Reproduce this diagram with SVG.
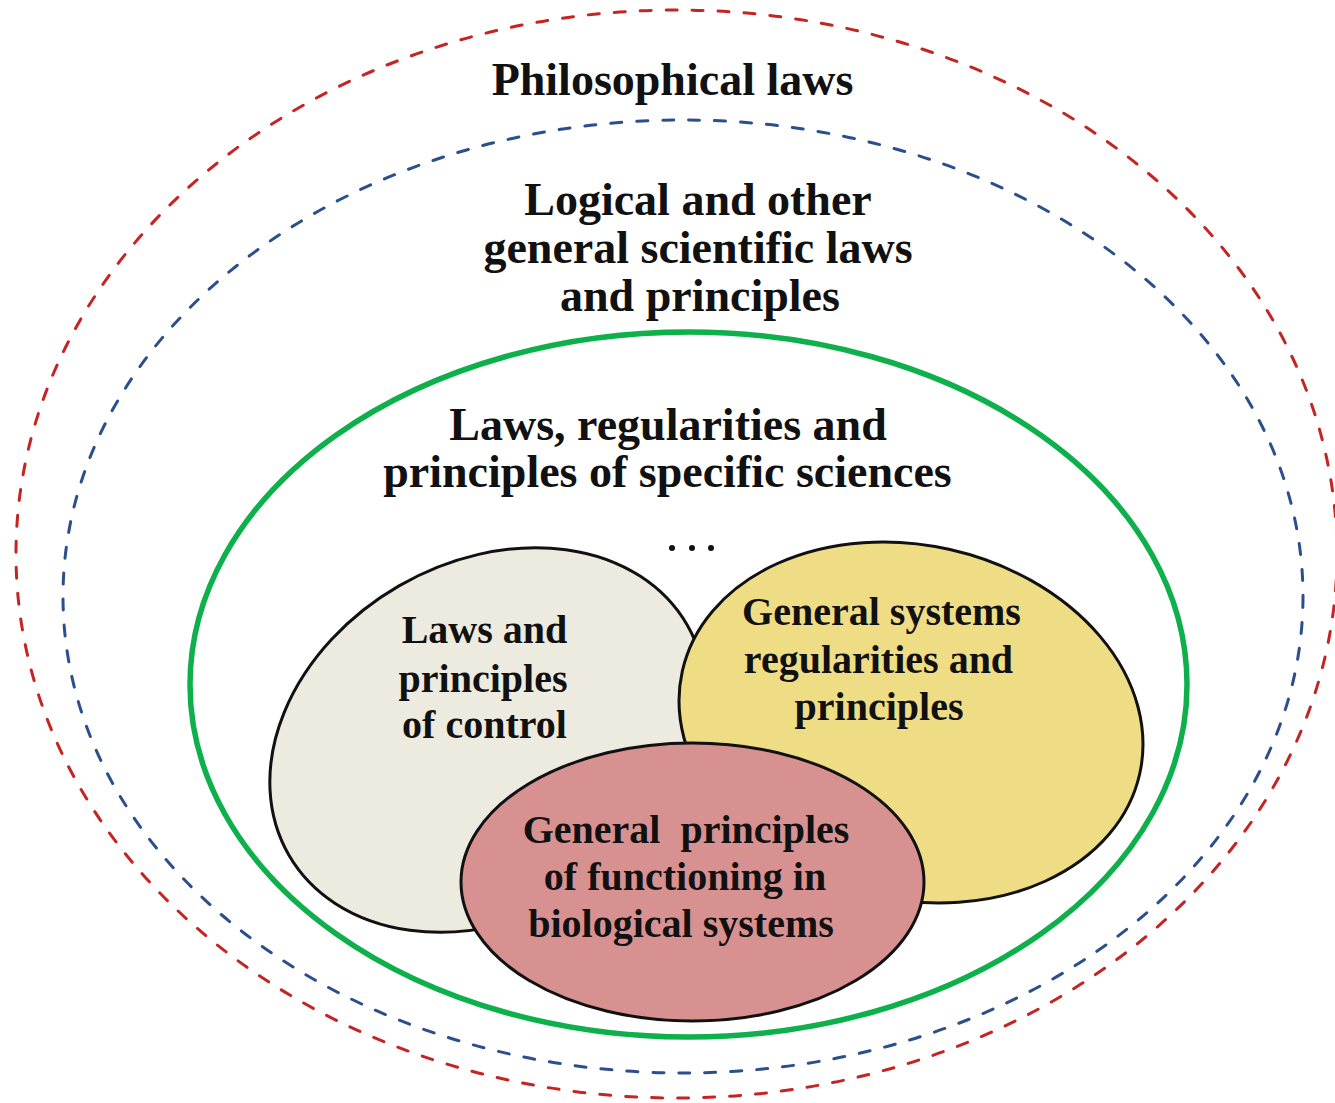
<svg xmlns="http://www.w3.org/2000/svg" width="1335" height="1103" viewBox="0 0 1335 1103">
<style>
  .lbl { font-family: "Liberation Serif", "Times New Roman", serif; font-weight: bold; fill: #111; text-anchor: middle; }
  .big { font-size: 46px; }
  .sm { font-size: 40px; }
  .dash { fill: none; stroke-width: 3; stroke-dasharray: 11 15; stroke-linecap: round; }
  .inner { stroke: #111; stroke-width: 3; }
</style>
<rect x="0" y="0" width="1335" height="1103" fill="#ffffff"/>
<g id="philosophical">
  <ellipse class="dash" cx="676.5" cy="554" rx="660.5" ry="544" stroke="#c42523"/>
  <text class="lbl big" x="672.5" y="95">Philosophical laws</text>
</g>
<g id="general-scientific">
  <ellipse class="dash" cx="683" cy="596.5" rx="620" ry="476.5" stroke="#2b4f8c"/>
  <text class="lbl big" x="698" y="215">Logical and other</text>
  <text class="lbl big" x="698" y="263">general scientific laws</text>
  <text class="lbl big" x="700" y="311">and principles</text>
</g>
<g id="specific-sciences">
  <ellipse cx="688.5" cy="684.5" rx="498.5" ry="352.5" fill="none" stroke="#0db04b" stroke-width="5.5"/>
  <text class="lbl big" x="668" y="440">Laws, regularities and</text>
  <text class="lbl big" x="667.5" y="487">principles of specific sciences</text>
  <circle cx="672" cy="548" r="3" fill="#111"/>
  <circle cx="692" cy="548" r="3" fill="#111"/>
  <circle cx="711" cy="548" r="3" fill="#111"/>
</g>
<g id="control">
  <ellipse class="inner" cx="488" cy="740" rx="230" ry="178" transform="rotate(-30 488 740)" fill="#edebdf"/>
  <text class="lbl sm" x="484.5" y="643">Laws and</text>
  <text class="lbl sm" x="483" y="692">principles</text>
  <text class="lbl sm" x="484.5" y="738">of control</text>
</g>
<g id="systems">
  <ellipse class="inner" cx="911" cy="722.5" rx="234.4" ry="177.3" transform="rotate(12.7 911 722.5)" fill="#efdd85"/>
  <text class="lbl sm" x="881.5" y="625">General systems</text>
  <text class="lbl sm" x="878.5" y="673">regularities and</text>
  <text class="lbl sm" x="879" y="720">principles</text>
</g>
<g id="biological">
  <ellipse class="inner" cx="692.5" cy="882" rx="231.5" ry="139" fill="#d89191"/>
  <text class="lbl sm" x="686" y="843">General&#160; principles</text>
  <text class="lbl sm" x="685" y="890">of functioning in</text>
  <text class="lbl sm" x="681" y="937">biological systems</text>
</g>
<g id="connectors"></g>
</svg>
